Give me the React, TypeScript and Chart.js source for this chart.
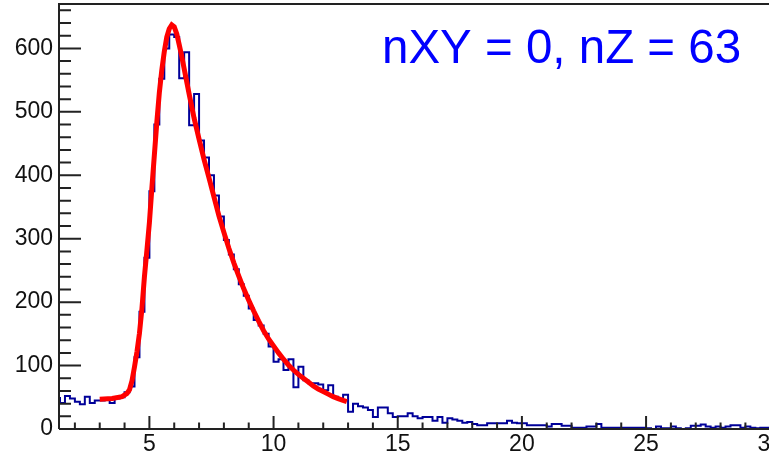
import { useEffect, useRef } from "react";
import { Chart, registerables } from "chart.js";

Chart.register(...registerables);

// Histogram: bins of width 0.2 starting at 1.2
const binStart = 1.2;
const binWidth = 0.2;
const counts = [
  49, 41, 52, 48, 43, 39, 51, 41, 45, 45,
  46, 41, 48, 50, 58, 67, 113, 185, 270, 375,
  480, 552, 600, 622, 618, 553, 594, 479, 528, 455,
  428, 400, 368, 335, 298, 275, 252, 228, 210, 190,
  172, 163, 150, 130, 106, 110, 93, 110, 66, 98,
  77, 72, 72, 70, 61, 69, 51, 46, 54, 27,
  40, 36, 34, 30, 19, 34, 34, 25, 19, 20,
  20, 25, 20, 17, 19, 19, 13, 19, 10, 17,
  15, 13, 10, 11, 8, 6, 6, 9, 9, 9,
  9, 13, 10, 9, 9, 6, 6, 6, 6, 4,
  8, 8, 5, 5, 2, 2, 2, 4, 4, 8,
  2, 2, 2, 2, 2, 2, 2, 2, 2, 1,
  0, 4, 1, 1, 4, 1, 0, 1, 5, 5,
  7, 4, 2, 4, 2, 4, 6, 6, 2, 4,
  2, 1, 2, 2,
];

// Fit curve samples
const fitX = [
  3.0, 3.5, 3.9, 4.1, 4.2, 4.3, 4.4, 4.5, 4.6, 4.7, 4.8, 4.9, 5.0, 5.1, 5.2,
  5.3, 5.4, 5.5, 5.6, 5.7, 5.8, 5.9, 6.0, 6.1, 6.2, 6.3, 6.4, 6.6, 6.8, 7.0,
  7.2, 7.4, 7.6, 7.8, 8.0, 8.2, 8.4, 8.6, 8.8, 9.0, 9.2, 9.4, 9.6, 9.8, 10.0,
  10.2, 10.4, 10.6, 10.8, 11.0, 11.2, 11.4, 11.6, 11.8, 12.0, 12.2, 12.4, 12.6,
  12.8, 12.95,
];
const fitY = [
  47, 48, 51, 56, 62, 76, 98, 122, 151, 190, 240, 282, 325, 380, 432,
  484, 530, 566, 595, 618, 631, 637, 634, 623, 606, 588, 568, 528, 490, 457,
  425, 396, 366, 336, 310, 285, 262, 241, 221, 203, 186, 170, 155, 142, 131,
  120, 110, 101, 93, 86, 80, 74, 68, 63, 59, 55, 51, 48,
  45, 43,
];

const xTickValues = [5, 10, 15, 20, 25, 30];
const xTickLabels = ["5", "10", "15", "20", "25", "30"];
const yTickValues = [0, 100, 200, 300, 400, 500, 600];
const yTickLabels = ["0", "100", "200", "300", "400", "500", "600"];
const xMinorStep = 1;
const yMinorStep = 20;
const annotationText = "nXY = 0, nZ = 63";

const X_MIN = 1.36;
const X_MAX = 29.95;
const Y_MIN = 0;
const Y_MAX = 670;

export default function App() {
  const ref = useRef<HTMLCanvasElement | null>(null);

  useEffect(() => {
    if (!ref.current) return;

    const histPoints = counts.map((c, i) => ({ x: binStart + binWidth * i, y: c }));
    histPoints.push({ x: binStart + binWidth * counts.length, y: counts[counts.length - 1] });
    const fitPoints = fitX.map((x, i) => ({ x, y: fitY[i] }));

    const framePlugin = {
      id: "rootFrame",
      afterDraw(chart: any) {
        const { ctx, chartArea } = chart;
        const xs = chart.scales.x;
        const ys = chart.scales.y;
        const { left, top, right, bottom } = chartArea;
        ctx.save();
        ctx.strokeStyle = "#222";
        ctx.lineWidth = 2;
        ctx.beginPath();
        ctx.moveTo(left, bottom);
        ctx.lineTo(left, top);
        ctx.lineTo(right + 2, top);
        ctx.moveTo(left, bottom);
        ctx.lineTo(right + 2, bottom);
        ctx.stroke();

        // Y ticks (inward)
        ctx.lineWidth = 2;
        ctx.beginPath();
        for (let v = Y_MIN; v <= Y_MAX; v += yMinorStep) {
          const py = ys.getPixelForValue(v);
          const major = yTickValues.includes(v);
          ctx.moveTo(left, py);
          ctx.lineTo(left + (major ? 22 : 12), py);
        }
        // X ticks (inward)
        for (let v = Math.ceil(X_MIN); v <= 30; v += xMinorStep) {
          const px = xs.getPixelForValue(v);
          const major = xTickValues.includes(v);
          ctx.moveTo(px, bottom);
          ctx.lineTo(px, bottom - (major ? 13 : 6.5));
        }
        ctx.stroke();

        // Annotation
        ctx.fillStyle = "#0000ff";
        ctx.font = "47.5px 'Liberation Sans', Arial, sans-serif";
        ctx.textAlign = "left";
        ctx.textBaseline = "alphabetic";
        ctx.fillText(annotationText, 382, 63);
        ctx.restore();
      },
    };

    const tickFont = { family: "'Liberation Sans', Arial, sans-serif", size: 23 };

    const chart = new Chart(ref.current, {
      type: "line",
      data: {
        datasets: [
          {
            label: "fit",
            data: fitPoints,
            borderColor: "#ff0000",
            borderWidth: 5,
            pointRadius: 0,
            fill: false,
            tension: 0,
          },
          {
            label: "hist",
            data: histPoints,
            borderColor: "rgb(0,0,153)",
            borderWidth: 2,
            pointRadius: 0,
            fill: false,
            stepped: "before",
          },
        ],
      },
      options: {
        animation: false,
        responsive: false,
        parsing: true,
        layout: { padding: { left: 0, right: 0, top: 4, bottom: 0 } },
        plugins: {
          legend: { display: false },
          tooltip: { enabled: false },
          title: { display: false },
        },
        scales: {
          x: {
            type: "linear",
            position: "bottom",
            min: X_MIN,
            max: X_MAX,
            grid: { display: false, drawTicks: false },
            border: { display: false },
            ticks: {
              autoSkip: false,
              maxRotation: 0,
              includeBounds: false,
              padding: 2,
              color: "#111",
              font: tickFont,
              callback: (v: any) => {
                const i = xTickValues.indexOf(Number(v));
                return i >= 0 ? xTickLabels[i] : "";
              },
            },
            afterBuildTicks: (s: any) => {
              s.ticks = xTickValues.map((v) => ({ value: v }));
            },
            afterFit: (s: any) => {
              s.height = 29;
              s.paddingLeft = 0;
              s.paddingRight = 0;
            },
          },
          y: {
            type: "linear",
            position: "left",
            min: Y_MIN,
            max: Y_MAX,
            grid: { display: false, drawTicks: false },
            border: { display: false },
            ticks: {
              autoSkip: false,
              includeBounds: false,
              padding: 6,
              color: "#111",
              font: tickFont,
              callback: (v: any) => {
                const i = yTickValues.indexOf(Number(v));
                return i >= 0 ? yTickLabels[i] : "";
              },
            },
            afterBuildTicks: (s: any) => {
              s.ticks = yTickValues.map((v) => ({ value: v }));
            },
            afterFit: (s: any) => {
              s.width = 59;
              s.paddingTop = 0;
              s.paddingBottom = 0;
            },
          },
        },
      },
      plugins: [framePlugin],
    });

    return () => chart.destroy();
  }, []);

  return (
    <div style={{ position: "absolute", left: 0, top: 0, width: 769, height: 458, background: "#fff" }}>
      <canvas ref={ref} width={769} height={458} style={{ display: "block" }} />
    </div>
  );
}
